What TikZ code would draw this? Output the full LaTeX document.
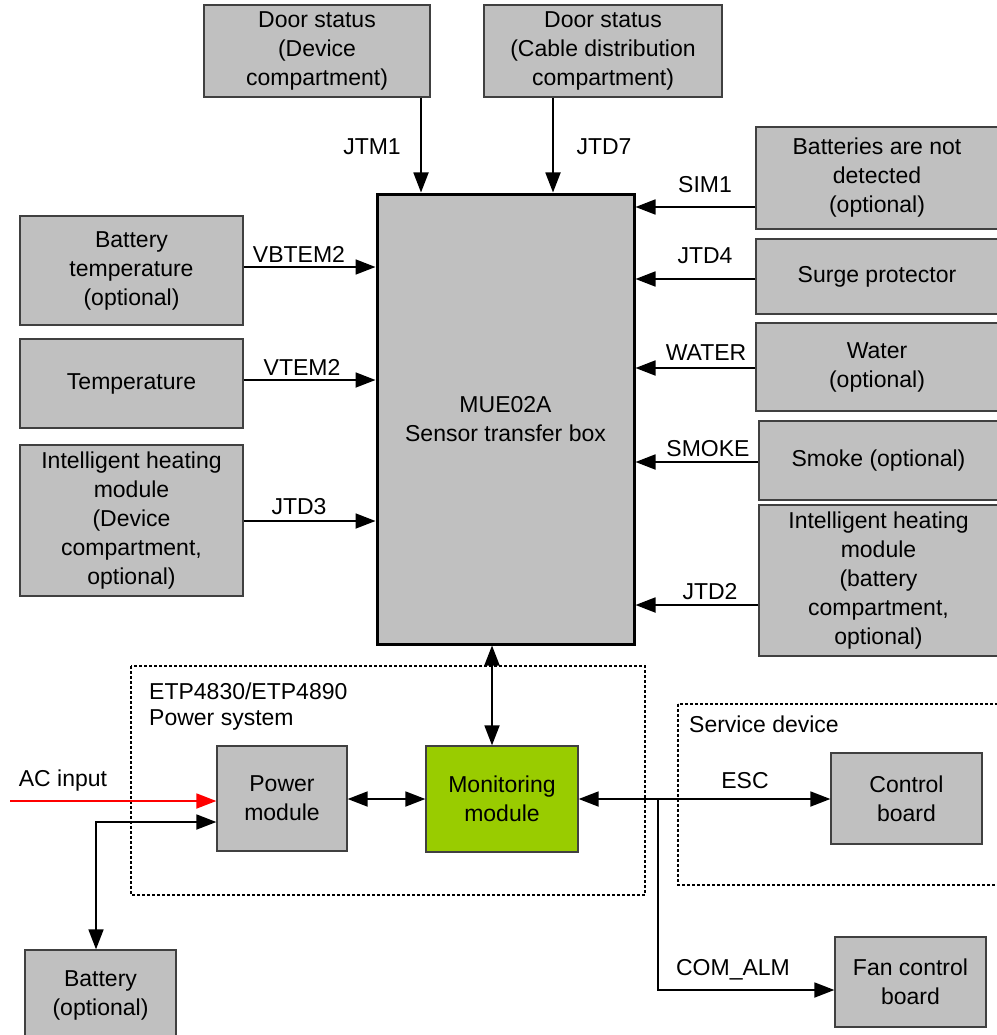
\documentclass[tikz,border=0pt]{standalone}
\usepackage{fontspec}
\setmainfont{Liberation Sans}
\usetikzlibrary{arrows.meta}
\definecolor{boxgray}{HTML}{C0C0C0}
\definecolor{boxedge}{HTML}{404040}
\definecolor{mongreen}{HTML}{99CC00}
\tikzset{
  box/.style={draw=boxedge, fill=boxgray, line width=1.3pt, align=center, inner sep=0pt, font=\fontsize{23}{29}\selectfont},
  lbl/.style={inner sep=0pt, font=\fontsize{23}{29}\selectfont},
  arr/.style={line width=1.8pt, -{Triangle[length=20pt,width=15pt]}},
  darr/.style={line width=1.8pt, {Triangle[length=20pt,width=15pt]}-{Triangle[length=20pt,width=15pt]}},
  grp/.style={line width=1.5pt, dash pattern=on 3pt off 2pt},
}
\begin{document}
\begin{tikzpicture}[x=1pt,y=-1pt]
\useasboundingbox (0,0) rectangle (996,1035);
% group boxes
\draw[grp] (131,666) rectangle (645,895);
\draw[grp] (678,704) rectangle (1002,885);
\node[lbl, anchor=west] (etp) at (149,691) {ETP4830/ETP4890};
\node[lbl, anchor=west] (psys) at (149,720) {Power system};
\node[lbl, anchor=west] (sdev) at (689,724) {Service device};
% boxes
\node[box, minimum width=226pt, minimum height=92pt] (dsd) at (317,51) {Door status\\(Device\\compartment)};
\node[box, minimum width=238pt, minimum height=92pt] (dsc) at (603,51) {Door status\\(Cable distribution\\compartment)};
\node[box, draw=black, line width=3pt, minimum width=257pt, minimum height=450pt] (mue) at (505.5,419) {MUE02A\\Sensor transfer box};
\node[box, minimum width=223pt, minimum height=109pt] (btemp) at (131.5,270.5) {Battery\\temperature\\(optional)};
\node[box, minimum width=223pt, minimum height=89pt] (temp) at (131.5,383.5) {Temperature};
\node[box, minimum width=223pt, minimum height=151pt] (ihd) at (131.5,520.5) {Intelligent heating\\module\\(Device\\compartment,\\optional)};
\node[box, minimum width=242pt, minimum height=102pt] (bnd) at (877,178) {Batteries are not\\detected\\(optional)};
\node[box, minimum width=242pt, minimum height=75pt] (surge) at (877,276.5) {Surge protector};
\node[box, minimum width=242pt, minimum height=88pt] (water) at (877,367) {Water\\(optional)};
\node[box, minimum width=239pt, minimum height=79pt] (smoke) at (878.5,460.5) {Smoke (optional)};
\node[box, minimum width=239pt, minimum height=151pt] (ihb) at (878.5,580.5) {Intelligent heating\\module\\(battery\\compartment,\\optional)};
\node[box, minimum width=130pt, minimum height=105pt] (pm) at (282,798.5) {Power\\module};
\node[box, fill=mongreen, minimum width=152pt, minimum height=106pt] (mm) at (502,799) {Monitoring\\module};
\node[box, minimum width=151pt, minimum height=91pt] (cb) at (906.5,798.5) {Control\\board};
\node[box, minimum width=151pt, minimum height=90pt] (fcb) at (910.5,982) {Fan control\\board};
\node[box, minimum width=151pt, minimum height=90pt] (bat) at (100.5,995) {Battery\\(optional)};
% top connectors
\draw[arr] ([xshift=104pt]dsd.south) coordinate (t1) -- (mue.north -| t1);
\draw[arr] ([xshift=-50pt]dsc.south) coordinate (t2) -- (mue.north -| t2);
\node[lbl] (ljtm1) at (372,147) {JTM1};
\node[lbl] (ljtd7) at (604,147) {JTD7};
% right connectors
\draw[arr] ([yshift=-29pt]bnd.west) coordinate (r1) -- (mue.east |- r1);
\draw[arr] ([yshift=-2.5pt]surge.west) coordinate (r2) -- (mue.east |- r2);
\draw[arr] ([yshift=-1pt]water.west) coordinate (r3) -- (mue.east |- r3);
\draw[arr] ([yshift=-1.5pt]smoke.west) coordinate (r4) -- (mue.east |- r4);
\draw[arr] ([yshift=-24.5pt]ihb.west) coordinate (r5) -- (mue.east |- r5);
\node[lbl] (lsim1) at (705,185) {SIM1};
\node[lbl] (ljtd4) at (705,256) {JTD4};
\node[lbl] (lwater) at (706,353) {WATER};
\node[lbl] (lsmoke) at (708,449) {SMOKE};
\node[lbl] (ljtd2) at (710,592) {JTD2};
% left connectors
\draw[arr] ([yshift=3.5pt]btemp.east) coordinate (l1) -- (mue.west |- l1);
\draw[arr] ([yshift=3.5pt]temp.east) coordinate (l2) -- (mue.west |- l2);
\draw[arr] ([yshift=-0.5pt]ihd.east) coordinate (l3) -- (mue.west |- l3);
\node[lbl] (lvbtem) at (299,254) {VBTEM2};
\node[lbl] (lvtem) at (302,367) {VTEM2};
\node[lbl] (ljtd3) at (299,507) {JTD3};
% bottom part
\coordinate (mx) at (492,0);
\draw[darr] (mue.south -| mx) -- (mm.north -| mx);
\draw[darr] (pm.east |- mm) -- (mm.west);
\draw[darr] (mm.east) -- (cb.west |- mm.east);
\coordinate (br) at (658,0);
\draw[arr] (mm.east -| br) |- ([yshift=-8pt]fcb.west);
\node[lbl] (lesc) at (745,781) {ESC};
\node[lbl] (lcom) at (733,970) {COM\_ALM};
\coordinate (acin) at (10,801);
\draw[arr, red] (acin) -- (pm.west |- acin);
\node[lbl] (lac) at (63,781) {AC input};
\draw[darr] ([yshift=-23.5pt]pm.west) -| ([xshift=-4.5pt]bat.north);
\end{tikzpicture}
\end{document}
